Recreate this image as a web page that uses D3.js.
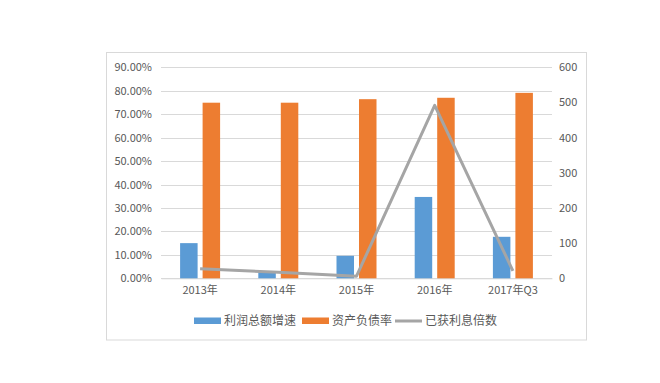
<!DOCTYPE html>
<html><head><meta charset="utf-8">
<script src="https://cdn.jsdelivr.net/npm/d3@7"></script>
<style>body{margin:0;background:#fff;} svg{display:block;}</style>
</head><body>
<script>
const categories = ["2013年","2014年","2015年","2016年","2017年Q3"];
const profitGrowth = [15.0, 2.8, 9.6, 34.7, 17.7];
const debtRatio = [74.9, 74.9, 76.4, 77.0, 79.1];
const interestCover = [27, 17, 6, 492, 21];
const leftTicks = [0,10,20,30,40,50,60,70,80,90];
const rightTicks = [0,100,200,300,400,500,600];
const seriesNames = ["利润总额增速","资产负债率","已获利息倍数"];
const colors = ["#5b9bd5","#ed7d31","#a5a5a5"];

(function(){
const W=660,H=383;
const svg=d3.select("body").append("svg").attr("width",W).attr("height",H);
const font='"Noto Sans CJK SC","Microsoft YaHei",sans-serif';
svg.append("rect").attr("x",106.5).attr("y",52.5).attr("width",480).attr("height",287.5)
  .attr("fill","#fff").attr("stroke","#d9d9d9");

const pL=161,pR=552,pT=67.3,pB=278.3;
const x=d3.scaleBand().domain(categories).range([pL,pR]);
const yL=d3.scaleLinear().domain([0,90]).range([pB,pT]);
const yR=d3.scaleLinear().domain([0,600]).range([pB,pT]);

// grid
svg.append("g").selectAll("line").data(leftTicks).join("line")
  .attr("x1",pL).attr("x2",pR).attr("y1",d=>Math.round(yL(d))+0.5).attr("y2",d=>Math.round(yL(d))+0.5)
  .attr("stroke","#d9d9d9").attr("stroke-width",1);

// left axis
const gL=svg.append("g").attr("transform",`translate(${pL},0)`)
  .call(d3.axisLeft(yL).tickValues(leftTicks).tickFormat(d=>d.toFixed(2)+"%").tickSize(0).tickPadding(9));
gL.select(".domain").remove();
gL.selectAll("text").attr("font-family",font).attr("font-size",11).attr("fill","#595959");

// right axis
const gR=svg.append("g").attr("transform",`translate(${pR},0)`)
  .call(d3.axisRight(yR).tickValues(rightTicks).tickSize(0).tickPadding(7));
gR.select(".domain").remove();
gR.selectAll("text").attr("font-family",font).attr("font-size",11).attr("fill","#595959");

// x axis labels
const gX=svg.append("g").attr("transform",`translate(0,${pB})`)
  .call(d3.axisBottom(x).tickSize(0).tickPadding(8));
gX.select(".domain").attr("stroke","#d9d9d9");
gX.selectAll("text").attr("font-family",font).attr("font-size",11).attr("fill","#595959");

// bars
const bw=17.5, gap=5;
const sub=d3.scaleOrdinal().domain([0,1]).range([-(gap/2+bw), gap/2]);
[profitGrowth,debtRatio].forEach((arr,i)=>{
  svg.append("g").selectAll("rect").data(arr).join("rect")
    .attr("x",(d,j)=>x(categories[j])+x.bandwidth()/2+sub(i))
    .attr("width",bw)
    .attr("y",d=>yL(d)).attr("height",d=>pB-yL(d))
    .attr("fill",colors[i]);
});

// line
const line=d3.line().x((d,j)=>x(categories[j])+x.bandwidth()/2).y(d=>yR(d));
svg.append("path").datum(interestCover).attr("d",line).attr("fill","none")
  .attr("stroke",colors[2]).attr("stroke-width",3).attr("stroke-linejoin","round");

// legend
const lg=svg.append("g").attr("font-family",font).attr("font-size",12).attr("fill","#595959");
const items=[{x:194,type:"rect",tx:224},{x:302,type:"rect",tx:332},{x:395,type:"line",tx:425}];
items.forEach((it,i)=>{
  if(it.type==="rect"){
    lg.append("rect").attr("x",it.x).attr("y",317.5).attr("width",27).attr("height",6.5).attr("fill",colors[i]);
  } else {
    lg.append("line").attr("x1",it.x).attr("x2",it.x+27).attr("y1",321).attr("y2",321)
      .attr("stroke",colors[i]).attr("stroke-width",3);
  }
  lg.append("text").attr("x",it.tx).attr("y",321).attr("dy","0.36em").text(seriesNames[i]);
});
})();
</script>
</body></html>
